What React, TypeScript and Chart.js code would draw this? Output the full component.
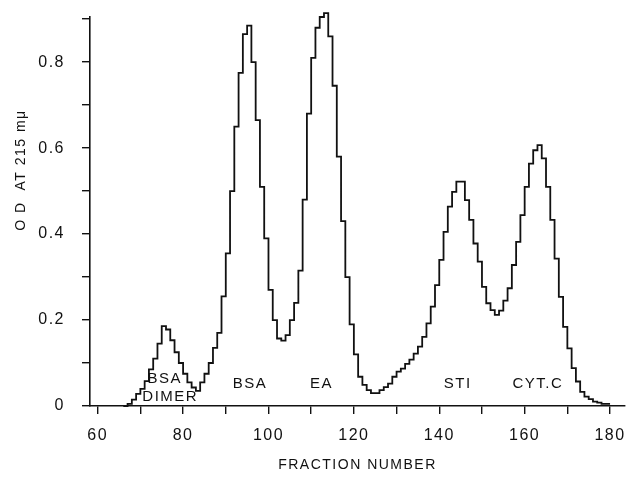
import React, { useEffect, useRef } from "react";
import { Chart, registerables } from "chart.js";

Chart.register(...registerables);

const fractions = [
  66, 67, 68, 69, 70, 71, 72, 73, 74, 75, 76, 77, 78, 79, 80, 81, 82, 83, 84, 85,
  86, 87, 88, 89, 90, 91, 92, 93, 94, 95, 96, 97, 98, 99, 100, 101, 102, 103, 104, 105,
  106, 107, 108, 109, 110, 111, 112, 113, 114, 115, 116, 117, 118, 119, 120, 121, 122, 123, 124, 125,
  126, 127, 128, 129, 130, 131, 132, 133, 134, 135, 136, 137, 138, 139, 140, 141, 142, 143, 144, 145,
  146, 147, 148, 149, 150, 151, 152, 153, 154, 155, 156, 157, 158, 159, 160, 161, 162, 163, 164, 165,
  166, 167, 168, 169, 170, 171, 172, 173, 174, 175, 176, 177, 178, 179, 180,
];

const odValues = [
  0, 0, 0.005, 0.015, 0.028, 0.04, 0.058, 0.085, 0.11, 0.145, 0.186, 0.178, 0.153, 0.125, 0.1, 0.075, 0.055, 0.043, 0.035, 0.055,
  0.075, 0.1, 0.135, 0.17, 0.255, 0.355, 0.5, 0.65, 0.775, 0.865, 0.885, 0.8, 0.665, 0.51, 0.39, 0.27, 0.2, 0.157, 0.152, 0.165,
  0.2, 0.24, 0.315, 0.48, 0.68, 0.81, 0.88, 0.905, 0.914, 0.86, 0.745, 0.58, 0.43, 0.3, 0.19, 0.12, 0.068, 0.049, 0.037, 0.03,
  0.03, 0.037, 0.044, 0.052, 0.068, 0.08, 0.087, 0.098, 0.108, 0.122, 0.138, 0.161, 0.192, 0.231, 0.281, 0.34, 0.405, 0.464, 0.498, 0.522,
  0.522, 0.479, 0.433, 0.378, 0.336, 0.277, 0.239, 0.223, 0.212, 0.222, 0.245, 0.274, 0.328, 0.382, 0.444, 0.51, 0.564, 0.595, 0.607, 0.576,
  0.51, 0.433, 0.343, 0.254, 0.184, 0.134, 0.088, 0.057, 0.033, 0.022, 0.016, 0.01, 0.008, 0.005, 0.005,
];

const xTickValues = [60, 70, 80, 90, 100, 110, 120, 130, 140, 150, 160, 170, 180];
const xLabelValues = [60, 80, 100, 120, 140, 160, 180];
const yTickValues = [0, 0.1, 0.2, 0.3, 0.4, 0.5, 0.6, 0.7, 0.8, 0.9];
const yLabelValues = [0, 0.2, 0.4, 0.6, 0.8];

const xTitle = "FRACTION NUMBER";
const yTitle = "O D  AT 215 mμ";

const peakLabels = ["BSA", "DIMER", "BSA", "EA", "STI", "CYT.C"];
const peakLabelFraction = [75.7, 77, 95.7, 112.4, 144.3, 163.1];
const peakLabelOD = [0.063, 0.022, 0.052, 0.052, 0.052, 0.052];

const INK = "#111111";
const FONT_FAMILY = '"Liberation Sans", "DejaVu Sans", sans-serif';

const textPlugin = {
  id: "textPlugin",
  beforeDraw(chart: any) {
    chart.ctx.letterSpacing = "1.5px";
  },
  afterDatasetsDraw(chart: any) {
    const { ctx, scales } = chart;
    const x = scales.x;
    const y = scales.y;
    ctx.save();
    ctx.letterSpacing = "1.5px";
    ctx.fillStyle = INK;
    ctx.font = `15px ${FONT_FAMILY}`;
    ctx.textAlign = "center";
    ctx.textBaseline = "middle";
    peakLabels.forEach((t, i) => {
      ctx.fillText(t, x.getPixelForValue(peakLabelFraction[i]), y.getPixelForValue(peakLabelOD[i]));
    });
    ctx.translate(21, y.getPixelForValue(0.549));
    ctx.rotate(-Math.PI / 2);
    ctx.font = `14px ${FONT_FAMILY}`;
    ctx.fillText(yTitle, 0, 0);
    ctx.restore();
  },
  afterDraw(chart: any) {
    chart.ctx.letterSpacing = "0px";
  },
};

export default function App() {
  const canvasRef = useRef<HTMLCanvasElement | null>(null);

  useEffect(() => {
    if (!canvasRef.current) return;
    const points = fractions.map((f, i) => ({ x: f, y: odValues[i] }));
    const tickFont = { family: FONT_FAMILY, size: 16 };
    const chart = new Chart(canvasRef.current, {
      type: "line",
      data: {
        datasets: [
          {
            data: points,
            stepped: "after",
            borderColor: INK,
            borderWidth: 1.8,
            pointRadius: 0,
            fill: false,
            clip: false as any,
          },
        ],
      },
      options: {
        animation: false,
        responsive: true,
        maintainAspectRatio: false,
        layout: { padding: { left: 0, right: 3, top: 17, bottom: 0 } },
        plugins: { legend: { display: false }, tooltip: { enabled: false } },
        scales: {
          x: {
            type: "linear",
            min: 58.2,
            max: 183.5,
            afterBuildTicks: (s: any) => {
              s.ticks = xTickValues.map((v) => ({ value: v }));
            },
            afterFit: (s: any) => {
              s.height = 71;
              s.paddingLeft = 0;
              s.paddingRight = 0;
            },
            ticks: {
              autoSkip: false,
              maxRotation: 0,
              padding: 12,
              color: INK,
              font: tickFont,
              callback: (v: any) => (xLabelValues.includes(Number(v)) ? String(v) : ""),
            },
            grid: {
              drawOnChartArea: false,
              drawTicks: true,
              tickLength: 8,
              tickColor: INK,
              lineWidth: 1.4,
            },
            border: { display: true, color: INK, width: 1.6 },
            title: {
              display: true,
              text: xTitle,
              color: INK,
              font: { family: FONT_FAMILY, size: 14 },
              padding: { top: 0, bottom: 3 },
            },
          },
          y: {
            type: "linear",
            min: 0,
            max: 0.905,
            afterBuildTicks: (s: any) => {
              s.ticks = yTickValues.map((v) => ({ value: v }));
            },
            afterFit: (s: any) => {
              s.width = 90;
              s.paddingTop = 0;
              s.paddingBottom = 0;
            },
            ticks: {
              autoSkip: false,
              padding: 17,
              color: INK,
              font: tickFont,
              callback: (v: any) => {
                const n = Number(v);
                const hit = yLabelValues.find((l) => Math.abs(l - n) < 1e-6);
                if (hit === undefined) return "";
                return hit === 0 ? "0" : hit.toFixed(1);
              },
            },
            grid: {
              drawOnChartArea: false,
              drawTicks: true,
              tickLength: 8,
              tickColor: INK,
              lineWidth: 1.4,
            },
            border: { display: true, color: INK, width: 1.6 },
          },
        },
      },
      plugins: [textPlugin],
    });
    return () => chart.destroy();
  }, []);

  return (
    <div style={{ position: "fixed", left: 0, top: 0, width: 628, height: 477, background: "#fff" }}>
      <canvas ref={canvasRef} />
    </div>
  );
}
